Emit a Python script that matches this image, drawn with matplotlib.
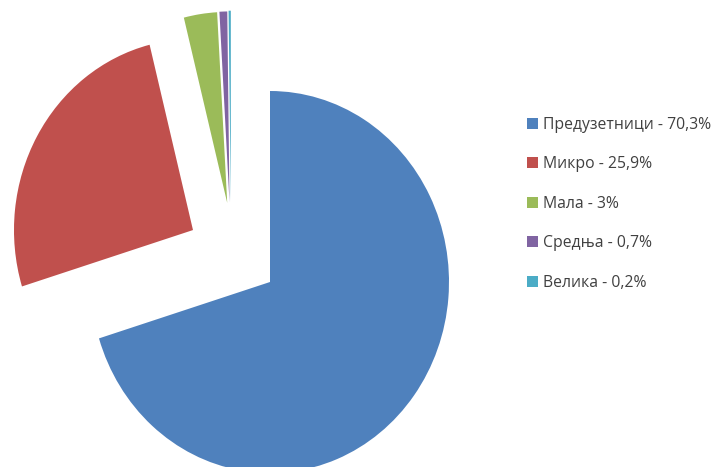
import numpy as np
import matplotlib.pyplot as plt

labels = ['Предузетници', 'Микро', 'Мала', 'Средња', 'Велика']
shares = [70.3, 25.9, 3, 0.7, 0.2]
share_text = ['70,3%', '25,9%', '3%', '0,7%', '0,2%']
colors = ['#4F81BD', '#C0504D', '#9BBB59', '#8064A2', '#4BACC6']

# pomak izvučenih isečaka (udaljenost, smer u stepenima)
shift_dist = [0.0, 0.509, 0.478, 0.474, 0.474]
shift_dir = [0, 147.7, 120, 118.5, 117.5]

W, H = 713, 467
RX, RY = 179.0, 191.0   # krug je malo razvučen po visini
cx, cy = 270, 282

fig = plt.figure(figsize=(W / 100, H / 100), dpi=100)
ax = fig.add_axes([0, 0, 1, 1])

wedges, _ = ax.pie(shares, colors=colors, startangle=90, counterclock=False,
                   radius=1.0, wedgeprops=dict(linewidth=0))
ax.set_xlim(-cx / RX, (W - cx) / RX)
ax.set_ylim(-(H - cy) / RY, cy / RY)
ax.set_aspect('auto')
ax.axis('off')

for w, d, a in zip(wedges, shift_dist, shift_dir):
    t = np.deg2rad(a)
    w.set_center((d * np.cos(t), d * np.sin(t)))

legend_labels = [f'{l} - {s}' for l, s in zip(labels, share_text)]
leg = fig.legend(wedges, legend_labels, loc='upper left',
                 bbox_to_anchor=(527 / W, 1 - 117 / H), frameon=False,
                 prop={'family': 'Open Sans', 'size': 11.3}, labelcolor='#404040',
                 handlelength=0.7, handleheight=0.7, handletextpad=0.3,
                 labelspacing=1.49, borderpad=0, borderaxespad=0)

fig.savefig('out.png', dpi=100)
